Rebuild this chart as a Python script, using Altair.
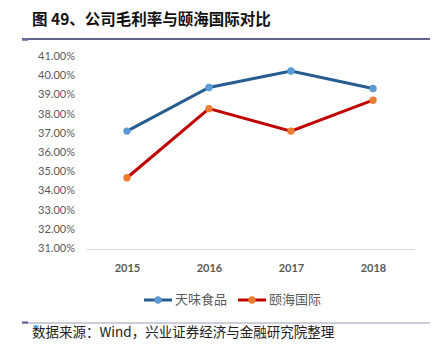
import altair as alt
import pandas as pd

years = ["2015", "2016", "2017", "2018"]
series_names = ["天味食品", "颐海国际"]
tianwei = [37.14, 39.41, 40.27, 39.36]
yihai = [34.71, 38.31, 37.14, 38.75]
line_colors = ["#265C8F", "#C00000"]
marker_colors = ["#5B9BD5", "#ED7D31"]
y_ticks = [31, 32, 33, 34, 35, 36, 37, 38, 39, 40, 41]

title_text = "图 49、公司毛利率与颐海国际对比"
source_text = "数据来源：Wind，兴业证券经济与金融研究院整理"

rows = []
for name, vals in zip(series_names, [tianwei, yihai]):
    for yr, v in zip(years, vals):
        rows.append({"year": yr, "series": name, "value": v})
df = pd.DataFrame(rows)
tick_df = pd.DataFrame({"tick": y_ticks})

W, H = 328, 192

x_scale = alt.Scale(type="point", padding=0.5)
y_scale = alt.Scale(domain=[31, 41], nice=False, zero=False)

lines = alt.Chart(df).mark_line(strokeWidth=3).encode(
    x=alt.X("year:N", sort=years, title=None, scale=x_scale),
    y=alt.Y("value:Q", title=None, scale=y_scale, axis=None),
    color=alt.Color("series:N", sort=series_names,
                    scale=alt.Scale(domain=series_names, range=line_colors), legend=None),
)
points = alt.Chart(df).mark_point(filled=True, size=55, opacity=1).encode(
    x=alt.X("year:N", sort=years, title=None, scale=x_scale),
    y=alt.Y("value:Q", title=None, scale=y_scale, axis=None),
    color=alt.Color("series:N", sort=series_names,
                    scale=alt.Scale(domain=series_names, range=marker_colors), legend=None),
)
ylabels = alt.Chart(tick_df).transform_calculate(
    label="format(datum.tick, '.2f') + '%'"
).mark_text(align="right", baseline="middle", font="Lato", fontSize=11,
            color="#595959").encode(
    x=alt.value(-11),
    y=alt.Y("tick:Q", scale=y_scale, axis=None),
    text="label:N",
)

one = pd.DataFrame({"a": [0]})

def txt(text, x, y, size, color="#000000", weight="normal", font="Noto Sans CJK SC", align="left"):
    return alt.Chart(one).mark_text(text=text, align=align, baseline="middle",
                                    font=font, fontSize=size, fontWeight=weight,
                                    color=color).encode(x=alt.value(x), y=alt.value(y))

def rule(x1, x2, y, color, width):
    return alt.Chart(one).mark_rule(color=color, strokeWidth=width).encode(
        x=alt.value(x1), x2=alt.value(x2), y=alt.value(y))

def dot(x, y, color):
    return alt.Chart(one).mark_point(filled=True, size=55, opacity=1, color=color).encode(
        x=alt.value(x), y=alt.value(y))

decor = [
    txt(title_text, -54, -37, 15.5, weight="bold", color="#111111"),
    rule(-64, 344, -18, "#2F2F6B", 1.5),
    rule(-64, -58, -17.5, "#6B6B9B", 2.5),
    rule(-64, 344, 266, "#9A9AB8", 1),
    rule(-64, -58, 265.5, "#5A5A8A", 2),
    txt(source_text, -54, 276, 13.5, color="#222222"),
    # legend
    rule(58, 86, 243, line_colors[0], 3),
    dot(72, 243, marker_colors[0]),
    txt(series_names[0], 89, 243, 13, color="#595959"),
    rule(152, 180, 243, line_colors[1], 3),
    dot(166, 243, marker_colors[1]),
    txt(series_names[1], 183, 243, 13, color="#595959"),
]

chart = alt.layer(lines, points, ylabels, *decor).resolve_scale(color="independent").properties(
    width=W, height=H,
    background="white",
    autosize=alt.AutoSizeParams(type="none"),
    padding={"left": 78, "top": 49, "right": 26, "bottom": 98},
).configure_view(
    stroke="transparent", strokeWidth=0
).configure_axisX(
    labelAngle=0, ticks=False, tickSize=0, labelPadding=13,
    labelFont="Lato", labelFontWeight="bold", labelFontSize=11,
    labelColor="#595959", domainColor="#D9D9D9", domainWidth=1, grid=False,
)

chart.save("out.html", embed_options={"renderer": "svg", "actions": False})
